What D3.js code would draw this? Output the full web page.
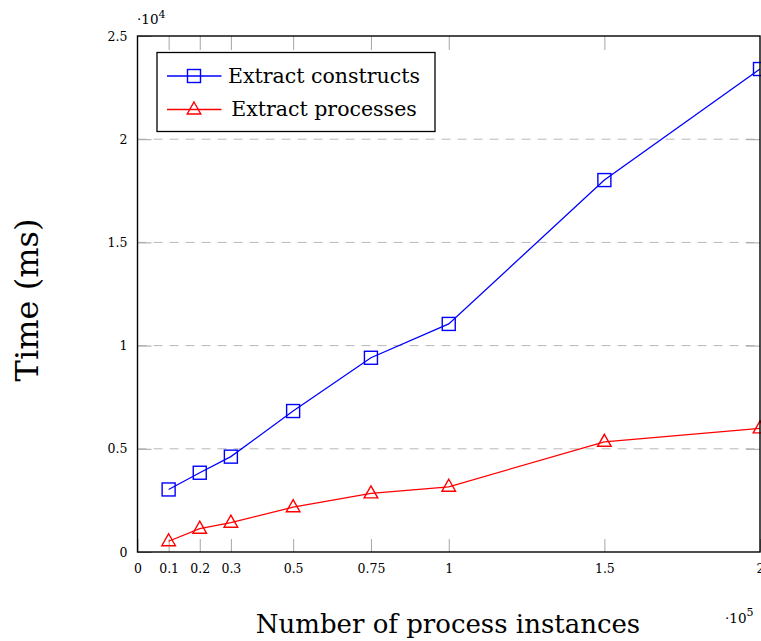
<!DOCTYPE html>
<html>
<head>
<meta charset="utf-8">
<script src="https://cdn.jsdelivr.net/npm/d3@7"></script>
<style>
  body { margin: 0; background: #fff; }
  svg { display: block; }
  text { font-family: "DejaVu Serif", serif; fill: #000; }
</style>
</head>
<body>
<svg id="chart" width="761" height="641"></svg>
<script>
// data
const instances = [10000, 20000, 30000, 50000, 75000, 100000, 150000, 200000];
const constructsTime = [3030, 3840, 4620, 6830, 9410, 11050, 18020, 23400];
const processesTime = [520, 1130, 1420, 2170, 2840, 3160, 5340, 5990];
const xTicks = [0, 10000, 20000, 30000, 50000, 75000, 100000, 150000, 200000];
const xTickLabels = ['0', '0.1', '0.2', '0.3', '0.5', '0.75', '1', '1.5', '2'];
const yTicks = [0, 5000, 10000, 15000, 20000, 25000];
const yTickLabels = ['0', '0.5', '1', '1.5', '2', '2.5'];
const gridValues = [5000, 10000, 15000, 20000];
const seriesNames = ['Extract constructs', 'Extract processes'];

const svg = d3.select('#chart');
const plotLeft = 137.5, plotRight = 760, plotTop = 36, plotBottom = 552;

const x = d3.scaleLinear().domain([0, 200000]).range([plotLeft, plotRight]);
const y = d3.scaleLinear().domain([0, 25000]).range([plotBottom, plotTop]);

// grid lines
svg.append('g').selectAll('line')
    .data(gridValues)
    .join('line')
    .attr('x1', plotLeft).attr('x2', plotRight)
    .attr('y1', d => y(d)).attr('y2', d => y(d))
    .attr('stroke', '#b8b8b8')
    .attr('stroke-width', 1)
    .attr('stroke-dasharray', '9,7');

// axes with inward ticks
const tickColor = '#a6a6a6';
function styleAxis(g) {
    g.select('.domain').remove();
    g.selectAll('.tick line').attr('stroke', tickColor).attr('stroke-width', 1);
    g.selectAll('.tick text')
        .style('font-family', '"DejaVu Serif", serif')
        .style('font-size', '12.5px')
        .attr('fill', '#000');
}

svg.append('g')
    .attr('transform', `translate(0,${plotBottom})`)
    .call(d3.axisBottom(x).tickValues(xTicks)
        .tickFormat((d, i) => xTickLabels[i])
        .tickSizeInner(-13).tickSizeOuter(0).tickPadding(12))
    .call(styleAxis);

svg.append('g')
    .attr('transform', `translate(0,${plotTop})`)
    .call(d3.axisTop(x).tickValues(xTicks.slice(1, -1))
        .tickFormat('').tickSizeInner(-14).tickSizeOuter(0))
    .call(styleAxis);

svg.append('g')
    .attr('transform', `translate(${plotLeft},0)`)
    .call(d3.axisLeft(y).tickValues(yTicks)
        .tickFormat((d, i) => yTickLabels[i])
        .tickSizeInner(-14).tickSizeOuter(0).tickPadding(10))
    .call(styleAxis);

svg.append('g')
    .attr('transform', `translate(${plotRight},0)`)
    .call(d3.axisRight(y).tickValues(gridValues)
        .tickFormat('').tickSizeInner(-14).tickSizeOuter(0))
    .call(styleAxis);

// series
const series = [
    { name: seriesNames[0], values: constructsTime, color: '#0000ff', marker: 'square' },
    { name: seriesNames[1], values: processesTime, color: '#ff0000', marker: 'triangle' }
];

const line = d3.line()
    .x(d => x(d[0]))
    .y(d => y(d[1]));

function drawMarker(g, type, color) {
    if (type === 'square') {
        g.append('rect')
            .attr('x', -6.5).attr('y', -6.5)
            .attr('width', 13).attr('height', 13)
            .attr('fill', 'none')
            .attr('stroke', color).attr('stroke-width', 1.4);
    } else {
        g.append('path')
            .attr('d', 'M0,-7.5L6.8,4.5L-6.8,4.5Z')
            .attr('fill', 'none')
            .attr('stroke', color).attr('stroke-width', 1.4);
    }
}

series.forEach(s => {
    const pts = instances.map((v, i) => [v, s.values[i]]);
    svg.append('path')
        .datum(pts)
        .attr('fill', 'none')
        .attr('stroke', s.color)
        .attr('stroke-width', 1.3)
        .attr('d', line);
    pts.forEach(p => {
        const g = svg.append('g').attr('transform', `translate(${x(p[0])},${y(p[1])})`);
        drawMarker(g, s.marker, s.color);
    });
});

// frame
svg.append('rect')
    .attr('x', plotLeft).attr('y', plotTop)
    .attr('width', plotRight - plotLeft).attr('height', plotBottom - plotTop)
    .attr('fill', 'none')
    .attr('stroke', '#000')
    .attr('stroke-width', 1.4);

// legend
const legend = svg.append('g');
legend.append('rect')
    .attr('x', 157).attr('y', 52.5)
    .attr('width', 278).attr('height', 79)
    .attr('fill', '#fff')
    .attr('stroke', '#000')
    .attr('stroke-width', 1.3);

const legendRows = [76, 109.5];
series.forEach((s, i) => {
    const ly = legendRows[i];
    legend.append('line')
        .attr('x1', 167).attr('x2', 221.5)
        .attr('y1', ly).attr('y2', ly)
        .attr('stroke', s.color).attr('stroke-width', 1.3);
    const g = legend.append('g').attr('transform', `translate(194,${ly})`);
    drawMarker(g, s.marker, s.color);
    legend.append('text')
        .attr('x', 324).attr('y', ly)
        .attr('dy', '0.33em')
        .attr('text-anchor', 'middle')
        .style('font-size', '20.5px')
        .text(s.name);
});

// axis titles
svg.append('text')
    .attr('transform', `translate(38,300) rotate(-90)`)
    .attr('text-anchor', 'middle')
    .style('font-size', '32px')
    .text('Time (ms)');

svg.append('text')
    .attr('x', 448).attr('y', 633)
    .attr('text-anchor', 'middle')
    .style('font-size', '26px')
    .text('Number of process instances');

// scale factors
const yMult = svg.append('text').attr('x', 137).attr('y', 24).style('font-size', '13.5px');
yMult.append('tspan').text('·10');
yMult.append('tspan').attr('dy', -6).style('font-size', '11px').text('4');

const xMult = svg.append('text').attr('x', 725).attr('y', 623).style('font-size', '13.5px');
xMult.append('tspan').text('·10');
xMult.append('tspan').attr('dy', -7).style('font-size', '11px').text('5');
</script>
</body>
</html>
